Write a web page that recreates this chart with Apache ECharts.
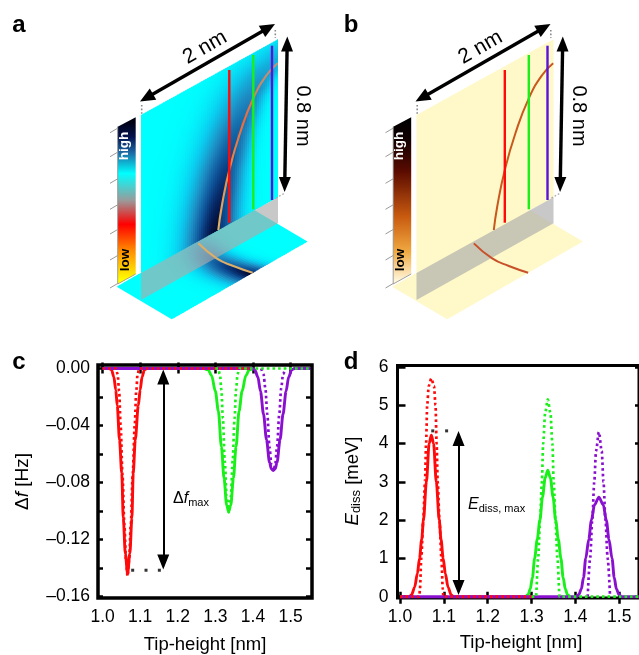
<!DOCTYPE html>
<html><head><meta charset="utf-8">
<style>html,body{margin:0;padding:0;background:#fff;overflow:hidden}#m{width:639px;height:655px}</style>
<script src="https://cdn.jsdelivr.net/npm/echarts@6/dist/echarts.min.js"></script>
</head><body><div id="m"></div>
<script>
// ---------- panel c: frequency shift [Hz] vs tip height [nm]
const cXTicks = [1.0,1.1,1.2,1.3,1.4,1.5];
const cYTicks = [0,-0.02,-0.04,-0.06,-0.08,-0.10,-0.12,-0.14,-0.16];
const cYLabels = [0,-0.04,-0.08,-0.12,-0.16];
const cRedSolid = [[1.0,0],[1.018,0],[1.024,-.001],[1.03,-.006],[1.035,-.015],[1.039,-.026],[1.045,-.05],[1.051,-.0735],[1.055,-.105],[1.0605,-.13],[1.0665,-.144],[1.0725,-.13],[1.078,-.105],[1.0815,-.0735],[1.087,-.05],[1.095,-.026],[1.1,-.015],[1.105,-.006],[1.111,-.001],[1.118,0],[1.3,0]];
const cRedDot = [[1.0,0],[1.035,0],[1.04,-.004],[1.044,-.016],[1.048,-.04],[1.053,-.075],[1.058,-.11],[1.0625,-.135],[1.0665,-.146],[1.0705,-.135],[1.075,-.11],[1.08,-.075],[1.0855,-.04],[1.0895,-.016],[1.093,-.004],[1.098,0],[1.39,0]];
const cGreenSolid = [[1.27,0],[1.281,-.001],[1.29,-.005],[1.3,-.016],[1.308,-.03],[1.316,-.055],[1.323,-.077],[1.33,-.096],[1.3353,-.1005],[1.341,-.096],[1.348,-.077],[1.355,-.055],[1.363,-.03],[1.371,-.016],[1.381,-.005],[1.39,-.001],[1.4,0]];
const cGreenDot = [[1.3,0],[1.307,0],[1.312,-.004],[1.316,-.015],[1.32,-.035],[1.325,-.065],[1.33,-.09],[1.3353,-.101],[1.341,-.09],[1.346,-.065],[1.351,-.035],[1.355,-.015],[1.359,-.004],[1.364,0],[1.553,0]];
const cPurpleSolid = [[1.0,0],[1.398,0],[1.405,-.001],[1.413,-.006],[1.42,-.016],[1.428,-.032],[1.436,-.05],[1.444,-.066],[1.449,-.0705],[1.454,-.0716],[1.459,-.0705],[1.464,-.066],[1.472,-.05],[1.48,-.032],[1.488,-.016],[1.495,-.006],[1.503,-.001],[1.51,0],[1.553,0]];
const cPurpleDot = [[1.422,0],[1.428,-.004],[1.433,-.014],[1.438,-.032],[1.444,-.055],[1.449,-.068],[1.454,-.072],[1.459,-.068],[1.464,-.055],[1.47,-.032],[1.475,-.014],[1.48,-.004],[1.486,0]];
const cGuideDots = [[1.08,-.1417],[1.1155,-.1417],[1.151,-.1417]];
const cArrow = [[1.1614,-.006],[1.1614,-.136]];

// ---------- panel d: dissipated energy [meV] vs tip height [nm]
const dXTicks = [1.0,1.1,1.2,1.3,1.4,1.5];
const dYTicks = [0,1,2,3,4,5,6];
const dRedSolid = [[1.0,0],[1.0215,0],[1.0265,.05],[1.0335,.25],[1.0395,.6],[1.0445,1],[1.0495,1.5],[1.0535,2],[1.0602,3],[1.0665,4],[1.0715,4.22],[1.0765,4],[1.0828,3],[1.0895,2],[1.0935,1.5],[1.0985,1],[1.1035,.6],[1.1095,.25],[1.1165,.05],[1.1215,0],[1.3,0]];
const dRedDot = [[1.0,0],[1.044,0],[1.0455,.2],[1.0485,1],[1.053,2],[1.057,3],[1.0595,4],[1.062,5],[1.0655,5.5],[1.0715,5.7],[1.0775,5.5],[1.081,5],[1.0835,4],[1.086,3],[1.09,2],[1.0945,1],[1.0975,.2],[1.099,0],[1.3,0]];
const dGreenSolid = [[1.287,0],[1.292,.05],[1.297,.2],[1.302,.5],[1.307,1],[1.313,1.5],[1.319,2],[1.325,2.6],[1.331,3.1],[1.337,3.3],[1.343,3.1],[1.349,2.6],[1.355,2],[1.361,1.5],[1.367,1],[1.372,.5],[1.377,.2],[1.382,.05],[1.387,0]];
const dGreenDot = [[1.3,0],[1.31,0],[1.315,1],[1.3195,2],[1.3235,3],[1.3265,4],[1.331,4.8],[1.337,5.15],[1.343,4.8],[1.3475,4],[1.3505,3],[1.3545,2],[1.359,1],[1.364,0],[1.55,0]];
const dPurpleSolid = [[1.0,0],[1.402,0],[1.4075,.05],[1.4135,.2],[1.4185,.5],[1.4235,1],[1.4305,1.5],[1.4365,2],[1.4435,2.4],[1.4535,2.6],[1.4635,2.4],[1.4705,2],[1.4765,1.5],[1.4835,1],[1.4885,.5],[1.4935,.2],[1.4995,.05],[1.505,0],[1.55,0]];
const dPurpleDot = [[1.428,0],[1.4335,1],[1.4385,2],[1.443,3],[1.447,3.8],[1.4535,4.3],[1.46,3.8],[1.464,3],[1.4685,2],[1.4735,1],[1.479,0]];
const dGuideDots = [[1.0747,4.33],[1.1063,4.33]];
const dArrow = [[1.1335,4.13],[1.1335,.24]];

// ---------- colours and text
const RED='#ff0a0a', GREEN='#19f019', PURPLE='#8a10d0';
const FONT='"Liberation Sans", Arial, sans-serif';
const xTitle='Tip-height [nm]';

const chart=echarts.init(document.getElementById('m'),null,{renderer:'canvas'});

function lineS(data,color,dashed,i,z){
  return {type:'line',xAxisIndex:i,yAxisIndex:i,data,showSymbol:false,smooth:.3,smoothMonotone:'x',silent:true,z:z,
    lineStyle:{color,width:dashed?2.7:2.9,type:dashed?[2.6,3]:'solid',cap:'butt'}};
}
function arrowS(pts,i){
  return {type:'line',xAxisIndex:i,yAxisIndex:i,data:[],silent:true,z:9,
    markLine:{silent:true,animation:false,symbol:['triangle','triangle'],symbolSize:[12,15],label:{show:false},
      lineStyle:{color:'#000',width:2,type:'solid'},itemStyle:{color:'#000'},
      data:[[{coord:pts[0]},{coord:pts[1]}]]}};
}
function dotsS(pts,i){
  return {type:'scatter',xAxisIndex:i,yAxisIndex:i,data:pts,symbol:'rect',symbolSize:3,silent:true,z:9,itemStyle:{color:'#000'}};
}
const labelStyle={fontFamily:FONT,fontSize:17.5,color:'#000'};
function tick(values,len){return {show:true,inside:true,length:len,lineStyle:{color:'#000',width:2.5},customValues:values};}
const off={show:false};

const option={
  animation:false,backgroundColor:'#fff',
  grid:[
    {left:98,top:365,width:214,height:233.5,show:true,borderColor:'#000',borderWidth:3.5},
    {left:397.5,top:365.5,width:243.5,height:232.5,show:true,borderColor:'#000',borderWidth:3}
  ],
  xAxis:[
    {gridIndex:0,z:3,type:'value',min:.9878,max:1.557,position:'bottom',splitLine:off,axisLine:off,axisTick:tick(cXTicks,6),
     axisLabel:{...labelStyle,margin:10,customValues:cXTicks,formatter:v=>v.toFixed(1)},
     name:xTitle,nameLocation:'middle',nameGap:37,nameTextStyle:{fontFamily:FONT,fontSize:18.5,color:'#000'}},
    {gridIndex:1,z:3,type:'value',min:.9943,max:1.545,position:'bottom',splitLine:off,axisLine:off,axisTick:tick(dXTicks,5),
     axisLabel:{...labelStyle,margin:10,customValues:dXTicks,formatter:v=>v.toFixed(1)}},
    {gridIndex:0,z:3,type:'value',min:.9878,max:1.557,position:'top',splitLine:off,axisLine:off,axisTick:tick(cXTicks,5),axisLabel:off},
    {gridIndex:1,z:3,type:'value',min:.9943,max:1.545,position:'top',splitLine:off,axisLine:off,axisTick:tick(dXTicks,7),axisLabel:off}
  ],
  yAxis:[
    {gridIndex:0,z:3,type:'value',min:-.1612,max:.00245,position:'left',splitLine:off,axisLine:off,axisTick:tick(cYTicks,5),
     axisLabel:{...labelStyle,margin:8,customValues:cYLabels,formatter:v=>v===0?'0.00':'\u2013'+Math.abs(v).toFixed(2)},
     name:'{n|\u0394}{i|f}{n| [Hz]}',nameLocation:'middle',nameGap:66,nameRotate:90,
     nameTextStyle:{rich:{n:{fontFamily:FONT,fontSize:19,color:'#000'},i:{fontFamily:FONT,fontSize:19,fontStyle:'italic',color:'#000'}}}},
    {gridIndex:1,z:3,type:'value',min:-.034,max:6.037,position:'left',splitLine:off,axisLine:off,axisTick:tick(dYTicks,8),
     axisLabel:{...labelStyle,margin:9,customValues:dYTicks,formatter:v=>String(v)}},
    {gridIndex:0,z:3,type:'value',min:-.1612,max:.00245,position:'right',splitLine:off,axisLine:off,axisTick:tick(cYTicks,6),axisLabel:off},
    {gridIndex:1,z:3,type:'value',min:-.034,max:6.037,position:'right',splitLine:off,axisLine:off,axisTick:tick(dYTicks,4),axisLabel:off}
  ],
  series:[
    lineS(cRedSolid,RED,false,0,3),lineS(cGreenSolid,GREEN,false,0,3),lineS(cPurpleSolid,PURPLE,false,0,4),
    lineS(cPurpleDot,PURPLE,true,0,5),lineS(cRedDot,RED,true,0,5),lineS(cGreenDot,GREEN,true,0,5),
    dotsS(cGuideDots,0),arrowS(cArrow,0),
    lineS(dRedSolid,RED,false,1,3),lineS(dGreenSolid,GREEN,false,1,3),lineS(dPurpleSolid,PURPLE,false,1,4),
    lineS(dPurpleDot,PURPLE,true,1,5),lineS(dRedDot,RED,true,1,5),lineS(dGreenDot,GREEN,true,1,5),
    dotsS(dGuideDots,1),arrowS(dArrow,1)
  ],
  graphic:{elements:[]}
};

// ---------- schematic panels a and b (decorative drawings)
const G=[];
function poly(points,fill,z){G.push({type:'polygon',silent:true,z:z||10,shape:{points},style:{fill,stroke:null}});}
function pline(points,stroke,w,dash,smooth,z){G.push({type:'polyline',silent:true,z:z||14,shape:{points,smooth:smooth||0},style:{stroke,lineWidth:w,lineDash:dash||null,fill:null}});}
function txt(text,x,y,size,o){o=o||{};G.push({type:'text',silent:true,z:20,x,y,rotation:o.rot||0,
  style:{text,fill:o.fill||'#000',fontFamily:FONT,fontSize:size,fontWeight:o.bold?'bold':'normal',align:o.align||'center',verticalAlign:'middle',rich:o.rich}});}
function lg(x0,y0,x1,y1,stops){return new echarts.graphic.LinearGradient(x0,y0,x1,y1,stops.map(s=>({offset:s[0],color:s[1]})),true);}
function arrow(x0,y0,x1,y1,w,hl,hw){
  const L=Math.hypot(x1-x0,y1-y0),ux=(x1-x0)/L,uy=(y1-y0)/L,nx=-uy,ny=ux;
  pline([[x0+ux*hl*.8,y0+uy*hl*.8],[x1-ux*hl*.8,y1-uy*hl*.8]],'#000',w,null,0,18);
  poly([[x0,y0],[x0+ux*hl+nx*hw/2,y0+uy*hl+ny*hw/2],[x0+ux*hl-nx*hw/2,y0+uy*hl-ny*hw/2]],'#000',18);
  poly([[x1,y1],[x1-ux*hl+nx*hw/2,y1-uy*hl+ny*hw/2],[x1-ux*hl-nx*hw/2,y1-uy*hl-ny*hw/2]],'#000',18);
}
const curveP=[[218.3,230],[221.7,206.7],[229.3,170],[240,133],[253.3,98.3],[266.7,75],[277.7,63.3],[295,50],[330,30]];
function curveX(y){
  for(let i=0;i<curveP.length-1;i++){const a=curveP[i],b=curveP[i+1];
    if(y<=a[1]&&y>=b[1])return a[0]+(b[0]-a[0])*(a[1]-y)/(a[1]-b[1]);}
  return y>230?218.3-(y-230)*.12:330;
}
function ramp(stops,t){
  t=Math.max(0,Math.min(1,t));
  for(let i=0;i<stops.length-1;i++){const a=stops[i],b=stops[i+1];
    if(t<=b[0]){const f=(t-a[0])/(b[0]-a[0]);
      return 'rgb('+[0,1,2].map(k=>Math.round(a[1][k]+(b[1][k]-a[1][k])*f)).join(',')+')';}}
  return 'rgb(0,0,0)';
}
const darkRamp=[[0,[0,255,255]],[.2,[10,205,240]],[.45,[30,140,195]],[.7,[14,80,150]],[.88,[6,35,95]],[1,[2,12,50]]];
const X0=141,X1=278,YT=115,SL=.5526,PH=158;
function panelDark(x,y){
  const d=curveX(y)-x, k=Math.max(0,Math.min(1,(230-y)/170));
  const A=1-.68*Math.pow(k,1.1);
  if(d>=0){const w=30+(230-y)*.02;return A*Math.exp(-Math.pow(d/w,2));}
  const w2=20-11*k,R=.8-.45*k;
  return R*Math.exp(-Math.pow(d/w2,2));
}
function floorDark(u,w){
  const uc=.6-.05*Math.sin(Math.PI*w),A=.18+.85*Math.pow(w,.8);
  const d=uc-u;
  return d>=0?A*Math.exp(-Math.pow(d/.13,2)):A*.75*Math.exp(-Math.pow(d/.09,2));
}
function panel(dx,o){
  const P=(x,y)=>[x+dx,y];
  const F0=[116.7,286.7],FU=[135.7,-77.7],FW=[55,32.6];
  const fp=(u,w)=>[F0[0]+FU[0]*u+FW[0]*w+dx,F0[1]+FU[1]*u+FW[1]*w];
  if(o.heat){
    const N=70;
    for(let i=0;i<N;i++){const u=i/N,v=Math.min(1,(i+1.6)/N),stops=[];
      for(let s=0;s<=12;s++){stops.push([s/12,ramp(darkRamp,floorDark((i+.5)/N,s/12))]);}
      poly([fp(u,0),fp(v,0),fp(v,1),fp(u,1)],lg(fp(u,0)[0],fp(u,0)[1],fp(u,1)[0],fp(u,1)[1],stops),10);
    }
  } else poly([fp(0,0),fp(0,1),fp(1,1),fp(1,0)],o.base,10);
  const arc=[[295,700],[350,745],[400,768],[458,788]].map(p=>[100+p[0]/3+dx,10+p[1]/3]);
  if(o.heat){
    const W=2;
    for(let x=X0;x<X1;x+=W){
      const yt=YT-(x-X0)*SL,stops=[];
      for(let s=0;s<=16;s++){stops.push([s/16,ramp(darkRamp,panelDark(x+W/2,yt+PH*s/16))]);}
      const xr=Math.min(x+W+1,X1);
      poly([P(x,yt),P(xr,yt-(xr-x)*SL),P(xr,yt-(xr-x)*SL+PH),P(x,yt+PH)],lg(x+dx,yt,x+dx,yt+PH,stops),11);
    }
  } else poly([P(X0,YT),P(X1,YT-(X1-X0)*SL),P(X1,YT-(X1-X0)*SL+PH),P(X0,YT+PH)],o.base,11);
  poly([P(X0,273),P(X1,197.3),P(X1,223.3),P(X0,300)],'rgba(171,171,171,0.655)',12);
  pline(arc,o.floorCurve,o.curveW,null,.5,14);
  pline(curveP.slice(0,7).map(p=>P(p[0],p[1])),o.curve,o.curveW,null,.5,14);
  pline([P(229.3,70),P(229.3,222.7)],RED,2.4,null,0,15);
  pline([P(253.3,55),P(253.3,209.3)],GREEN,2.4,null,0,15);
  pline([P(272,45.7),P(272,200)],'#5a14d8',2.4,null,0,15);
  const cb=[P(117.7,126.7),P(135.7,117.3),P(135.7,274),P(117.7,284)];
  poly(cb,lg(dx,121,dx,280,o.bar),13);
  pline([cb[0],cb[3],cb[2]],'#8a8a8a',.8,null,0,14);
  [132.7,156.7,183.3,209.3,234,260,288].forEach(y=>pline([P(110,y),P(117.7,y-4.5)],'#9a9a9a',1,null,0,14));
  txt('high',124+dx,146,13.5,{rot:Math.PI/2,fill:'#fff',bold:true});
  txt('low',125+dx,260,13.5,{rot:Math.PI/2,fill:'#000',bold:true});
  pline([P(141.7,105),P(141.7,115)],'#8a8a8a',1.6,[1.6,2],0,16);
  pline([P(275.3,30),P(275.3,38)],'#8a8a8a',1.6,[1.6,2],0,16);
  pline([P(276,198),P(285,193)],'#aaaaaa',1.4,[1.6,2],0,16);
  arrow(140+dx,101.5,275+dx,24,3.4,15,13);
  arrow(287.3+dx,36.5,284.6+dx,192,3.4,15,12);
  txt('2 nm',205+dx,47.5,21,{rot:.52});
  txt('0.8 nm',302.7+dx,116,20,{rot:-Math.PI/2});
}
const curveA=lg(0,60,0,230,[[0,'#b89a80'],[.35,'#f0683a'],[.65,'#ec8a48'],[1,'#e0b468']]);
panel(0,{heat:true,base:'#00ffff',curve:curveA,floorCurve:'#dcae68',curveW:2.1,
  bar:[[0,'#000010'],[.1,'#03134f'],[.2,'#1c6aa5'],[.33,'#00ffff'],[.5,'#9a9a9a'],[.65,'#ff0000'],[.82,'#ff9000'],[1,'#ffff00']]});
panel(275.5,{heat:false,base:'#fff8c8',curve:'#c8581c',floorCurve:'#c8502a',curveW:2,
  bar:[[0,'#000000'],[.12,'#120000'],[.32,'#5c0c00'],[.6,'#c85a10'],[.82,'#f0a840'],[1,'#fff5d8']]});

txt('a',19,25,24,{bold:true});
txt('b',351,25,24,{bold:true});
txt('c',19,362,24,{bold:true});
txt('d',351,362,24,{bold:true});
txt('{n|\u0394}{i|f}{s|max}',173,499,16,{align:'left',rich:{n:{fontFamily:FONT,fontSize:16,color:'#000'},i:{fontFamily:FONT,fontSize:16,fontStyle:'italic',color:'#000'},s:{fontFamily:FONT,fontSize:11,color:'#000',padding:[8,0,0,0]}}});
txt('{i|E}{s|diss, max}',468,505,16,{align:'left',rich:{i:{fontFamily:FONT,fontSize:16,fontStyle:'italic',color:'#000'},s:{fontFamily:FONT,fontSize:11,color:'#000',padding:[8,0,0,0]}}});
txt(xTitle,521,643,18.5);
G.push({type:'text',silent:true,z:20,x:353,y:481,rotation:Math.PI/2,style:{text:'{i|E}{s|diss}{n| [meV]}',align:'center',verticalAlign:'middle',
  rich:{i:{fontFamily:FONT,fontSize:18.5,fontStyle:'italic',color:'#000'},s:{fontFamily:FONT,fontSize:13,color:'#000',padding:[7,0,0,0]},n:{fontFamily:FONT,fontSize:18.5,color:'#000'}}}});
option.graphic.elements=G;
chart.setOption(option);
</script></body></html>
